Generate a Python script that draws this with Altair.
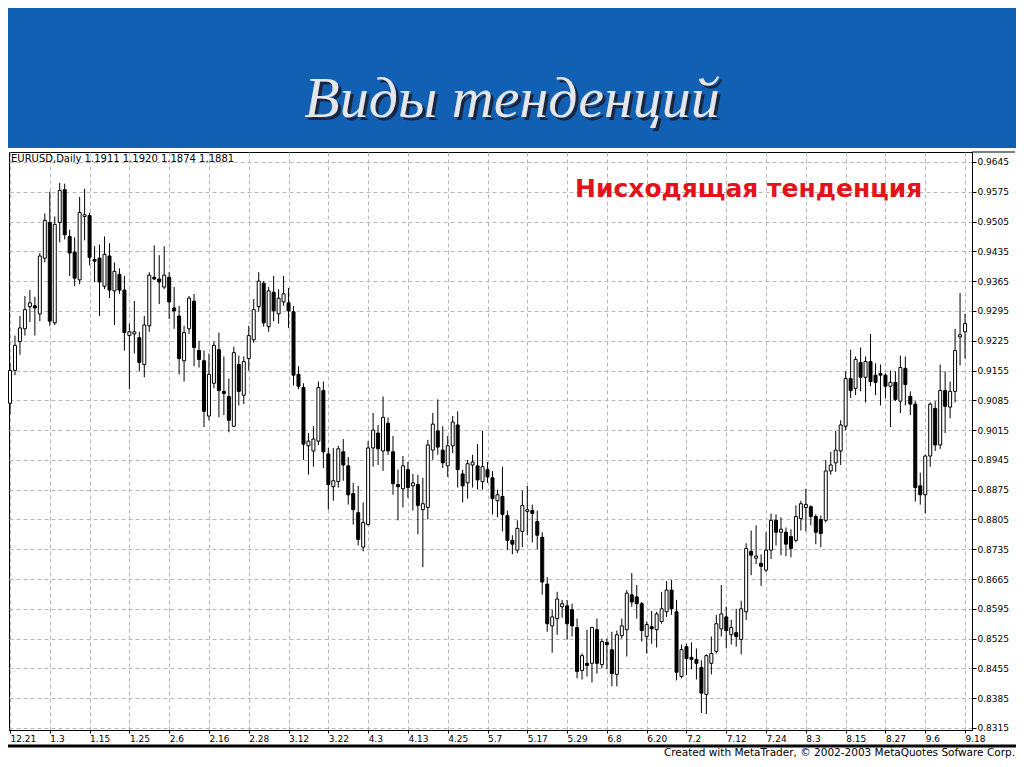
import altair as alt
import pandas as pd

# ---- data ----
dates = ["12.21", "1.3", "1.15", "1.25", "2.6", "2.16", "2.28", "3.12", "3.22",
         "4.3", "4.13", "4.25", "5.7", "5.17", "5.29", "6.8", "6.20", "7.2",
         "7.12", "7.24", "8.3", "8.15", "8.27", "9.6", "9.18"]
date_bars = [0, 8, 16, 24, 32, 40, 48, 56, 64, 72, 80, 88, 96, 104, 112, 120,
             128, 136, 144, 152, 160, 168, 176, 184, 192]
price_ticks = [0.9645, 0.9575, 0.9505, 0.9435, 0.9365, 0.9295, 0.9225, 0.9155,
               0.9085, 0.9015, 0.8945, 0.8875, 0.8805, 0.8735, 0.8665, 0.8595,
               0.8525, 0.8455, 0.8385, 0.8315]

open_ = [
    0.9078, 0.9155, 0.9223, 0.9253, 0.9305, 0.9307, 0.9288, 0.9419, 0.9503, 0.9267,
    0.9503, 0.9580, 0.9470, 0.9433, 0.9368, 0.9517, 0.9519, 0.9416, 0.9419, 0.9353,
    0.9424, 0.9342, 0.9381, 0.9344, 0.9237, 0.9241, 0.9232, 0.9169, 0.9260, 0.9374,
    0.9370, 0.9351, 0.9374, 0.9302, 0.9283, 0.9178, 0.9253, 0.9318, 0.9202, 0.9178,
    0.9048, 0.9125, 0.9204, 0.9106, 0.9094, 0.9024, 0.9169, 0.9097, 0.9183, 0.9227,
    0.9305, 0.9360, 0.9258, 0.9339, 0.9288, 0.9316, 0.9314, 0.9293, 0.9146, 0.9115,
    0.8978, 0.8966, 0.8989, 0.9108, 0.8959, 0.8882, 0.8894, 0.8964, 0.8931, 0.8866,
    0.8821, 0.8740, 0.8793, 0.8973, 0.9008, 0.8966, 0.9031, 0.8964, 0.8887, 0.8877,
    0.8922, 0.8884, 0.8887, 0.8828, 0.8833, 0.8968, 0.9013, 0.8968, 0.8931, 0.8978,
    0.9027, 0.8912, 0.8891, 0.8933, 0.8931, 0.8894, 0.8922, 0.8903, 0.8849, 0.8859,
    0.8814, 0.8756, 0.8733, 0.8777, 0.8824, 0.8826, 0.8800, 0.8763, 0.8653, 0.8555,
    0.8572, 0.8600, 0.8602, 0.8593, 0.8551, 0.8450, 0.8467, 0.8467, 0.8546, 0.8464,
    0.8516, 0.8499, 0.8441, 0.8532, 0.8546, 0.8628, 0.8623, 0.8607, 0.8530, 0.8553,
    0.8546, 0.8565, 0.8588, 0.8639, 0.8588, 0.8436, 0.8506, 0.8481, 0.8476, 0.8457,
    0.8394, 0.8467, 0.8495, 0.8548, 0.8576, 0.8534, 0.8539, 0.8523, 0.8588, 0.8730,
    0.8714, 0.8702, 0.8686, 0.8733, 0.8803, 0.8775, 0.8775, 0.8765, 0.8756, 0.8807,
    0.8833, 0.8835, 0.8812, 0.8805, 0.8803, 0.8919, 0.8938, 0.8966, 0.9024, 0.9136,
    0.9113, 0.9174, 0.9139, 0.9176, 0.9144, 0.9148, 0.9144, 0.9118, 0.9127, 0.9083,
    0.9160, 0.9094, 0.9076, 0.8884, 0.8863, 0.8954, 0.9066, 0.8980, 0.9108, 0.9069,
    0.9106, 0.9234, 0.9246]

high = [
    0.9172, 0.9237, 0.9283, 0.9330, 0.9344, 0.9328, 0.9431, 0.9524, 0.9575, 0.9517,
    0.9596, 0.9594, 0.9486, 0.9468, 0.9563, 0.9582, 0.9526, 0.9447, 0.9451, 0.9470,
    0.9454, 0.9409, 0.9395, 0.9377, 0.9265, 0.9318, 0.9246, 0.9283, 0.9386, 0.9449,
    0.9426, 0.9447, 0.9386, 0.9351, 0.9307, 0.9260, 0.9330, 0.9335, 0.9225, 0.9202,
    0.9195, 0.9223, 0.9244, 0.9188, 0.9136, 0.9211, 0.9190, 0.9188, 0.9260, 0.9323,
    0.9386, 0.9365, 0.9351, 0.9377, 0.9346, 0.9377, 0.9349, 0.9307, 0.9165, 0.9125,
    0.9008, 0.9024, 0.9129, 0.9129, 0.8973, 0.8973, 0.8978, 0.8994, 0.8952, 0.8891,
    0.8884, 0.8845, 0.8989, 0.9055, 0.9027, 0.9094, 0.9045, 0.9001, 0.8922, 0.8954,
    0.8940, 0.8912, 0.8910, 0.8903, 0.8992, 0.9055, 0.9087, 0.9024, 0.9001, 0.9048,
    0.9059, 0.8922, 0.8945, 0.8957, 0.8982, 0.9013, 0.8940, 0.8919, 0.8875, 0.8929,
    0.8826, 0.8768, 0.8803, 0.8873, 0.8884, 0.8840, 0.8826, 0.8775, 0.8670, 0.8593,
    0.8635, 0.8616, 0.8616, 0.8607, 0.8572, 0.8490, 0.8546, 0.8553, 0.8572, 0.8525,
    0.8525, 0.8541, 0.8544, 0.8572, 0.8639, 0.8679, 0.8651, 0.8611, 0.8565, 0.8590,
    0.8588, 0.8635, 0.8660, 0.8663, 0.8616, 0.8511, 0.8513, 0.8516, 0.8502, 0.8474,
    0.8488, 0.8530, 0.8581, 0.8651, 0.8600, 0.8569, 0.8595, 0.8614, 0.8749, 0.8779,
    0.8791, 0.8723, 0.8775, 0.8819, 0.8817, 0.8810, 0.8786, 0.8782, 0.8838, 0.8849,
    0.8877, 0.8838, 0.8817, 0.8814, 0.8945, 0.8964, 0.9013, 0.9038, 0.9153, 0.9204,
    0.9188, 0.9209, 0.9188, 0.9241, 0.9172, 0.9169, 0.9148, 0.9155, 0.9153, 0.9190,
    0.9188, 0.9106, 0.9083, 0.8915, 0.8957, 0.9080, 0.9083, 0.9169, 0.9153, 0.9129,
    0.9253, 0.9337, 0.9288]

low = [
    0.9052, 0.9144, 0.9192, 0.9237, 0.9269, 0.9237, 0.9271, 0.9409, 0.9260, 0.9262,
    0.9456, 0.9463, 0.9377, 0.9353, 0.9358, 0.9461, 0.9402, 0.9363, 0.9283, 0.9346,
    0.9325, 0.9262, 0.9335, 0.9202, 0.9111, 0.9195, 0.9153, 0.9139, 0.9246, 0.9368,
    0.9311, 0.9346, 0.9276, 0.9253, 0.9146, 0.9129, 0.9241, 0.9165, 0.9162, 0.9022,
    0.9038, 0.9113, 0.9045, 0.9050, 0.9010, 0.9022, 0.9073, 0.9076, 0.9155, 0.9220,
    0.9293, 0.9258, 0.9246, 0.9271, 0.9265, 0.9307, 0.9255, 0.9120, 0.9111, 0.8945,
    0.8910, 0.8929, 0.8980, 0.8926, 0.8828, 0.8849, 0.8880, 0.8896, 0.8840, 0.8793,
    0.8744, 0.8730, 0.8791, 0.8929, 0.8933, 0.8919, 0.8957, 0.8863, 0.8803, 0.8833,
    0.8856, 0.8826, 0.8770, 0.8693, 0.8805, 0.8945, 0.8957, 0.8926, 0.8905, 0.8961,
    0.8880, 0.8845, 0.8854, 0.8880, 0.8875, 0.8875, 0.8891, 0.8817, 0.8810, 0.8777,
    0.8733, 0.8723, 0.8726, 0.8740, 0.8768, 0.8751, 0.8735, 0.8628, 0.8541, 0.8492,
    0.8534, 0.8574, 0.8523, 0.8530, 0.8432, 0.8429, 0.8436, 0.8422, 0.8443, 0.8455,
    0.8453, 0.8413, 0.8413, 0.8525, 0.8483, 0.8600, 0.8572, 0.8518, 0.8490, 0.8513,
    0.8504, 0.8560, 0.8576, 0.8581, 0.8427, 0.8432, 0.8439, 0.8453, 0.8429, 0.8350,
    0.8348, 0.8441, 0.8490, 0.8530, 0.8502, 0.8511, 0.8506, 0.8488, 0.8569, 0.8674,
    0.8700, 0.8649, 0.8681, 0.8712, 0.8744, 0.8721, 0.8719, 0.8716, 0.8751, 0.8779,
    0.8777, 0.8791, 0.8747, 0.8740, 0.8798, 0.8910, 0.8917, 0.8933, 0.9015, 0.9090,
    0.9097, 0.9106, 0.9080, 0.9118, 0.9097, 0.9073, 0.9090, 0.9022, 0.9083, 0.9055,
    0.9073, 0.9050, 0.8847, 0.8840, 0.8819, 0.8929, 0.8966, 0.8971, 0.9008, 0.9043,
    0.9080, 0.9167, 0.9183]

close = [
    0.9155, 0.9214, 0.9255, 0.9298, 0.9314, 0.9302, 0.9424, 0.9508, 0.9271, 0.9498,
    0.9578, 0.9474, 0.9431, 0.9372, 0.9526, 0.9521, 0.9421, 0.9412, 0.9363, 0.9428,
    0.9344, 0.9388, 0.9344, 0.9244, 0.9246, 0.9246, 0.9174, 0.9262, 0.9379, 0.9370,
    0.9363, 0.9379, 0.9316, 0.9295, 0.9183, 0.9244, 0.9325, 0.9209, 0.9181, 0.9059,
    0.9146, 0.9214, 0.9108, 0.9101, 0.9038, 0.9197, 0.9106, 0.9176, 0.9237, 0.9298,
    0.9365, 0.9267, 0.9342, 0.9295, 0.9325, 0.9335, 0.9295, 0.9144, 0.9118, 0.8982,
    0.8989, 0.8994, 0.9115, 0.8964, 0.8887, 0.8896, 0.8971, 0.8933, 0.8863, 0.8828,
    0.8758, 0.8798, 0.8973, 0.9015, 0.8971, 0.9045, 0.8966, 0.8889, 0.8882, 0.8931,
    0.8880, 0.8891, 0.8838, 0.8842, 0.8980, 0.9029, 0.8975, 0.8938, 0.8978, 0.9034,
    0.8922, 0.8884, 0.8936, 0.8940, 0.8898, 0.8929, 0.8905, 0.8854, 0.8863, 0.8817,
    0.8756, 0.8747, 0.8784, 0.8838, 0.8828, 0.8819, 0.8768, 0.8658, 0.8560, 0.8576,
    0.8618, 0.8607, 0.8560, 0.8555, 0.8448, 0.8485, 0.8462, 0.8551, 0.8467, 0.8518,
    0.8511, 0.8443, 0.8534, 0.8555, 0.8632, 0.8611, 0.8607, 0.8544, 0.8558, 0.8548,
    0.8583, 0.8595, 0.8639, 0.8595, 0.8446, 0.8499, 0.8478, 0.8476, 0.8467, 0.8397,
    0.8485, 0.8490, 0.8560, 0.8583, 0.8544, 0.8551, 0.8530, 0.8595, 0.8737, 0.8721,
    0.8719, 0.8695, 0.8733, 0.8803, 0.8775, 0.8782, 0.8747, 0.8737, 0.8812, 0.8842,
    0.8840, 0.8812, 0.8775, 0.8772, 0.8919, 0.8933, 0.8968, 0.9027, 0.9136, 0.9108,
    0.9181, 0.9139, 0.9176, 0.9129, 0.9127, 0.9144, 0.9118, 0.9127, 0.9087, 0.9162,
    0.9122, 0.9076, 0.8880, 0.8863, 0.8954, 0.9076, 0.8980, 0.9108, 0.9071, 0.9106,
    0.9202, 0.9239, 0.9265]

title_text = "Виды тенденций"
subtitle_text = "Нисходящая тенденция"
header_text = "EURUSD,Daily  1.1911 1.1920 1.1874 1.1881"
footer_text = "Created with MetaTrader, © 2002-2003 MetaQuotes Sofware Corp."

# ---- build ----
df = pd.DataFrame({"i": list(range(len(open_))), "open": open_, "high": high,
                   "low": low, "close": close})

W, H = 963, 578
xscale = alt.Scale(domain=[-0.2, 193.4], nice=False, zero=False, padding=0)
yscale = alt.Scale(domain=[0.83103, 0.96684], nice=False, zero=False, padding=0)

label_arr = "[" + ",".join("'%s'" % d for d in dates) + "]"
xaxis = alt.Axis(values=date_bars, tickCount=40,
                 labelExpr=label_arr + "[round(datum.value/8)]",
                 labelAlign="left", labelBaseline="top", labelPadding=1,
                 tickSize=3, tickColor="black", domainColor="black",
                 grid=True, gridDash=[4, 3], gridColor="#b8b8b8",
                 labelFont="DejaVu Sans", labelFontSize=9, labelColor="black",
                 labelFlush=False, labelOverlap=False, title=None)
yaxis = alt.Axis(orient="right", values=price_ticks, tickCount=40, format=".4f",
                 tickSize=4, tickColor="black", domainColor="black", labelPadding=1,
                 grid=True, gridDash=[4, 3], gridColor="#b8b8b8",
                 labelFont="DejaVu Sans", labelFontSize=9, labelColor="black",
                 labelOverlap=False, labelFlush=False, title=None)

base = alt.Chart(df)

wicks = base.mark_rule(color="black", strokeWidth=1).encode(
    x=alt.X("i:Q", scale=xscale, axis=xaxis),
    y=alt.Y("low:Q", scale=yscale, axis=yaxis),
    y2="high:Q")

bodies = base.mark_bar(size=3, stroke="black", strokeWidth=1).encode(
    x=alt.X("i:Q", scale=xscale),
    y=alt.Y("open:Q", scale=yscale),
    y2="close:Q",
    fill=alt.condition("datum.close >= datum.open", alt.value("white"), alt.value("black")))

one = alt.Data(values=[{"k": 1}])

banner = alt.Chart(one).mark_rect(color="#1160b3").encode(
    x=alt.value(-1), x2=alt.value(1007), y=alt.value(-144), y2=alt.value(-4))

top_ext = alt.Chart(one).mark_rule(color="black", strokeWidth=1).encode(
    x=alt.value(W), x2=alt.value(1006), y=alt.value(0))

bottom_bar = alt.Chart(one).mark_rule(color="black", strokeWidth=3).encode(
    x=alt.value(-1), x2=alt.value(1007), y=alt.value(594))

title_shadow = alt.Chart(one).mark_text(
    font="Liberation Serif", fontStyle="italic", fontSize=58, color="#1a2640",
    align="center", baseline="alphabetic").encode(
    x=alt.value(506), y=alt.value(-32), text=alt.value(title_text))
title_main = alt.Chart(one).mark_text(
    font="Liberation Serif", fontStyle="italic", fontSize=58, color="#e4e6ea",
    align="center", baseline="alphabetic").encode(
    x=alt.value(503), y=alt.value(-35), text=alt.value(title_text))

subtitle = alt.Chart(one).mark_text(
    font="DejaVu Sans", fontWeight="bold", fontSize=25, color="#e3121b",
    align="left", baseline="alphabetic").encode(
    x=alt.value(566), y=alt.value(45), text=alt.value(subtitle_text))

header = alt.Chart(one).mark_text(
    font="DejaVu Sans", fontSize=10, color="black",
    align="left", baseline="alphabetic").encode(
    x=alt.value(2), y=alt.value(10), text=alt.value(header_text))

footer = alt.Chart(one).mark_text(
    font="DejaVu Sans", fontSize=10.5, color="black",
    align="right", baseline="alphabetic").encode(
    x=alt.value(1006), y=alt.value(604), text=alt.value(footer_text))

chart = alt.layer(banner, top_ext, bottom_bar, wicks, bodies, title_shadow, title_main,
                  subtitle, header, footer).properties(
    width=W, height=H,
    autosize=alt.AutoSizeParams(type="none"),
    padding={"left": 1, "top": 144, "right": 44, "bottom": 29},
    background="white",
).configure_view(stroke="black", strokeWidth=1)

chart.save("out.html", embed_options={"renderer": "svg", "actions": False})
